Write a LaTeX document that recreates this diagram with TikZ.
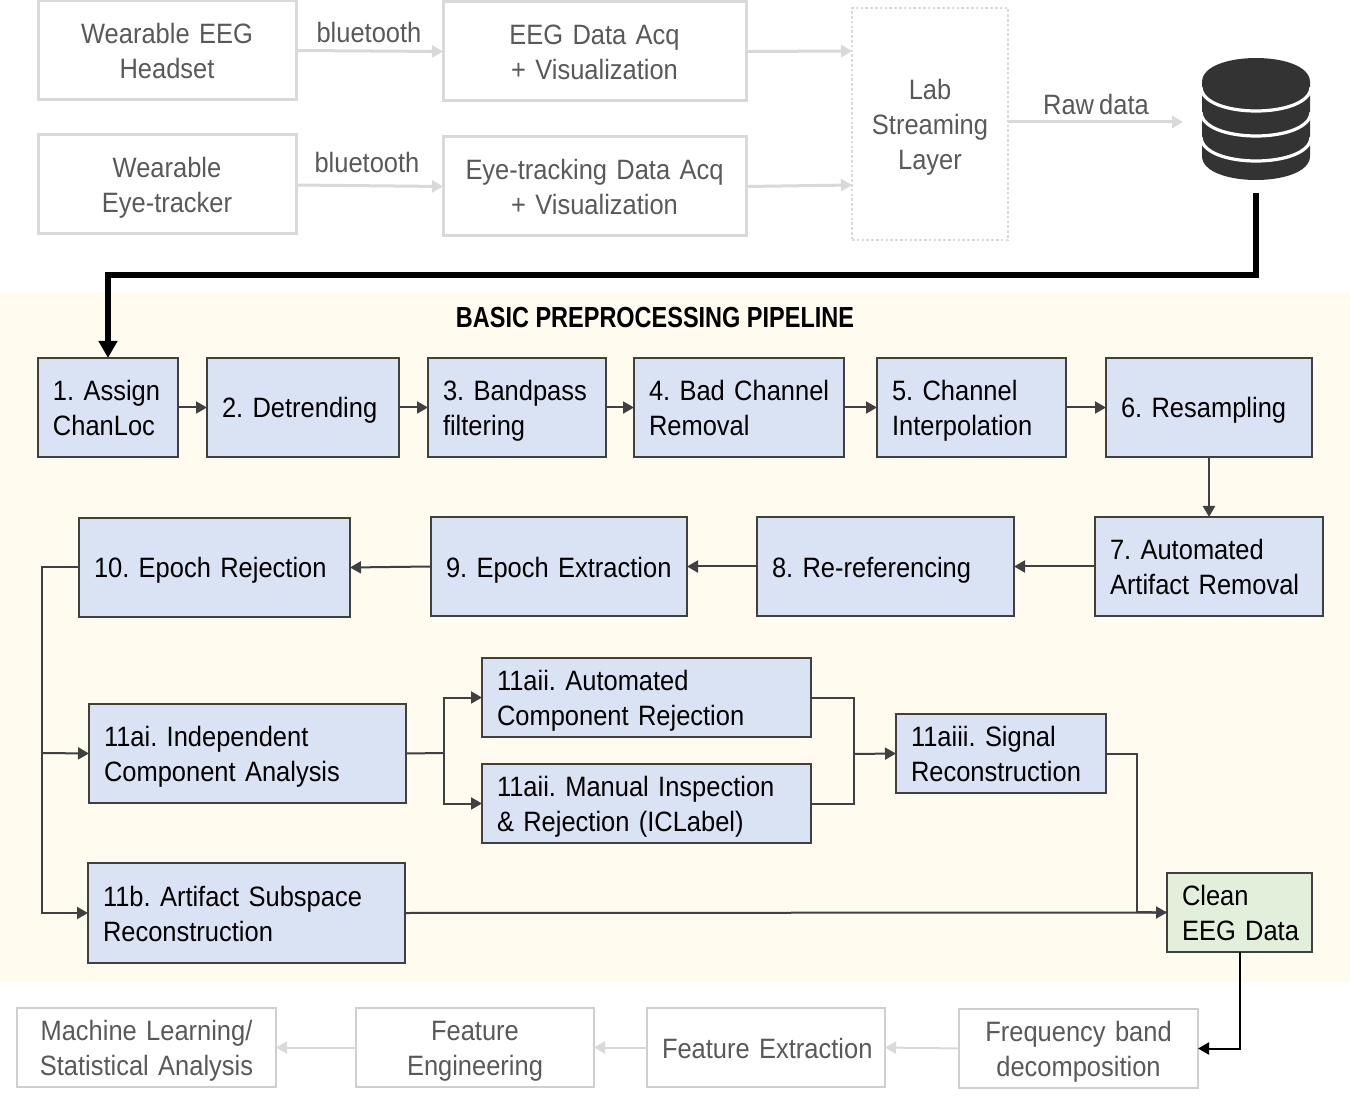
\documentclass[tikz,border=0pt]{standalone}
\usepackage{fontspec}
\setmainfont[FakeStretch=0.91,WordSpace=0.72]{Liberation Sans}
\newfontfamily\titlefont[FakeStretch=0.81,WordSpace=1]{Liberation Sans}
\usetikzlibrary{arrows.meta}
\definecolor{bandbg}{HTML}{FFFBEF}
\definecolor{bluefill}{HTML}{DAE3F3}
\definecolor{greenfill}{HTML}{E2EFDA}
\definecolor{darkline}{HTML}{404040}
\definecolor{lightline}{HTML}{D9D9D9}
\definecolor{softline}{HTML}{CFCFCF}
\definecolor{greytext}{HTML}{595959}
\definecolor{dbdark}{HTML}{333333}
\frenchspacing
\newcommand{\pbox}[7]{%
  \pgfmathsetlengthmacro{\bw}{(#5-#3)*0.5pt}%
  \pgfmathsetlengthmacro{\bh}{(#6-#4)*0.5pt}%
  \pgfmathsetlengthmacro{\bt}{(#5-#3)*0.5pt-15pt}%
  \node[#1,minimum width=\bw,minimum height=\bh,text width=\bt,anchor=north west] (#2) at (#3,#4)
    {\hyphenpenalty=10000 \rule{0pt}{14.5pt}#7\rule[-4pt]{0pt}{4pt}};%
}
\tikzset{
  x=0.5pt,y=-0.5pt,
  every node/.style={font=\fontsize{14}{17.5}\selectfont\frenchspacing,outer sep=0pt,inner ysep=0pt,inner xsep=7.5pt},
  bluebox/.style={draw=darkline,line width=1pt,fill=bluefill,align=left,text=black},
  greenbox/.style={draw=darkline,line width=1pt,fill=greenfill,align=left,text=black},
  greybox/.style={draw=lightline,line width=1.5pt,align=center,text=greytext},
  softbox/.style={draw=softline,line width=1pt,align=center,text=greytext},
  dotbox/.style={draw=lightline,line width=1.3pt,dash pattern=on 1.3pt off 1.1pt,align=center,text=greytext},
  lightlabel/.style={text=greytext,inner sep=0pt},
  lightarrow/.style={draw=lightline,line width=1.5pt,-{Triangle[length=5.5pt,width=6pt,fill=lightline]}},
  softarrow/.style={draw=lightline,line width=1pt,-{Triangle[length=5.5pt,width=6pt,fill=lightline]}},
  flow/.style={draw=darkline,line width=1pt,-{Triangle[length=5.5pt,width=6pt,fill=darkline]}},
  flowline/.style={draw=darkline,line width=1pt},
  thickflow/.style={draw=black,line width=3pt,-{Triangle[length=8.5pt,width=9pt,fill=black]}},
  blackflow/.style={draw=black,line width=1pt,-{Triangle[length=5.5pt,width=6pt,fill=black]}},
}
\begin{document}
\begin{tikzpicture}
\useasboundingbox (0,0) rectangle (1350,1101);
\fill[bandbg] (0,292) rectangle (1350,982);

% top row
\pbox{greybox}{headset}{38}{1}{296}{100}{Wearable~EEG\\Headset}
\pbox{greybox}{eegacq}{443}{2}{746}{101}{EEG~Data~Acq\\+~Visualization}
\pbox{greybox}{tracker}{38}{135}{296}{234}{Wearable\\Eye-tracker}
\pbox{greybox}{eyeacq}{443}{137}{746}{236}{Eye-tracking~Data~Acq\\+~Visualization}
\pbox{dotbox}{lsl}{852}{8}{1008}{240}{Lab\\Streaming\\Layer}
\node[lightlabel] (bt1) at (369,32) {bluetooth};
\node[lightlabel] (bt2) at (367,162) {bluetooth};
\node[lightlabel] (raw) at (1096,104) {Raw data};
\coordinate (rawend) at (1183,122);
\coordinate (dbout) at (1256,193);
\coordinate (bendA) at (1256,275);
\coordinate (bendB) at (108,275);
\coordinate (firstin) at (108,358);

\draw[lightarrow] (headset.east) -- (eegacq.west);
\draw[lightarrow] (tracker.east) ++(0,0.5) -- (eyeacq.west);
\draw[lightarrow] (eegacq.east) -- (lsl.west |- 0,51);
\draw[lightarrow] (eyeacq.east) -- (lsl.west |- 0,185);
\draw[lightarrow] (lsl.east |- 0,122) -- (rawend);

% database
\fill[dbdark] (1202,82) .. controls (1202,50) and (1310,50) .. (1310,82)
  -- (1310,156) .. controls (1310,188) and (1202,188) .. (1202,156) -- cycle;
\foreach \yy in {88,113,138}{
  \draw[white,line width=1.6pt] (1201,\yy-1) .. controls (1202,\yy+31) and (1310,\yy+31) .. (1311,\yy-1);
}
\draw[thickflow] (dbout) -- (bendA) -- (bendB) -- (firstin);

% title
\node[font=\fontsize{14.5}{17.5}\selectfont\titlefont\bfseries,text=black,inner sep=0pt] (title) at (655,318) {BASIC PREPROCESSING PIPELINE};

% row 1
\pbox{bluebox}{n1}{38}{358}{178}{457}{1.~Assign\\ChanLoc}
\pbox{bluebox}{n2}{207}{358}{399}{457}{2.~Detrending}
\pbox{bluebox}{n3}{428}{358}{606}{457}{3.~Bandpass\\filtering}
\pbox{bluebox}{n4}{634}{358}{844}{457}{4.~Bad~Channel\\Removal}
\pbox{bluebox}{n5}{877}{358}{1066}{457}{5.~Channel\\Interpolation}
\pbox{bluebox}{n6}{1106}{358}{1312}{457}{6.~Resampling}
% row 2
\pbox{bluebox}{n7}{1095}{517}{1323}{616}{7.~Automated\\Artifact~Removal}
\pbox{bluebox}{n8}{757}{517}{1014}{616}{8.~Re-referencing}
\pbox{bluebox}{n9}{431}{517}{687}{616}{9.~Epoch~Extraction}
\pbox{bluebox}{n10}{79}{518}{350}{617}{10.~Epoch~Rejection}
% row 3
\pbox{bluebox}{ica}{89}{704}{406}{803}{11ai.~Independent\\Component~Analysis}
\pbox{bluebox}{auto}{482}{658}{811}{737}{11aii.~Automated\\Component~Rejection}
\pbox{bluebox}{manual}{482}{764}{811}{843}{11aii.~Manual~Inspection\\\&~Rejection~(ICLabel)}
\pbox{bluebox}{signal}{896}{714}{1106}{793}{11aiii.~Signal\\Reconstruction}
\pbox{bluebox}{asr}{88}{863}{405}{963}{11b.~Artifact~Subspace\\Reconstruction}
\pbox{greenbox}{clean}{1167}{873}{1312}{952}{Clean\\EEG~Data}
% bottom
\pbox{softbox}{freq}{959}{1009}{1198}{1088}{Frequency~band\\decomposition}
\pbox{softbox}{fext}{647}{1008}{885}{1087}{Feature~Extraction}
\pbox{softbox}{feng}{356}{1008}{594}{1087}{Feature\\Engineering}
\pbox{softbox}{ml}{17}{1008}{276}{1087}{Machine~Learning/\\Statistical~Analysis}

% connectors
\draw[flow] (n1) -- (n2);
\draw[flow] (n2) -- (n3);
\draw[flow] (n3) -- (n4);
\draw[flow] (n4) -- (n5);
\draw[flow] (n5) -- (n6);
\draw[flow] (n6.south -| 1209,0) -- (n7.north -| 1209,0);
\draw[flow] (n7) -- (n8);
\draw[flow] (n8) -- (n9);
\draw[flow] (n9.west) -- (n10.east);

\coordinate (trunk) at (42,753);
\draw[flowline] (n10.west) -| (trunk);
\draw[flow] (trunk) -- (ica.west);
\draw[flow] (trunk) |- (asr.west);

\coordinate (splitA) at (444,753);
\draw[flowline] (ica.east) -- (splitA);
\draw[flow] (splitA) |- (auto.west);
\draw[flow] (splitA) |- (manual.west);

\coordinate (mergeA) at (854,754);
\draw[flowline] (auto.east) -| (mergeA);
\draw[flowline] (manual.east) -| (mergeA);
\draw[flow] (mergeA) -- (signal.west);

\coordinate (mergeB) at (1137,912);
\draw[flowline] (signal.east) -| (mergeB);
\draw[flow] (asr.east) -- (clean.west);
\draw[flowline] (mergeB) -- (clean.west);

\coordinate (cleanout) at (1240,952);
\draw[blackflow] (cleanout) |- (freq.east);

\draw[softarrow] (freq.west) -- (fext.east);
\draw[softarrow] (fext.west) -- (feng.east);
\draw[softarrow] (feng.west) -- (ml.east);
\end{tikzpicture}
\end{document}
